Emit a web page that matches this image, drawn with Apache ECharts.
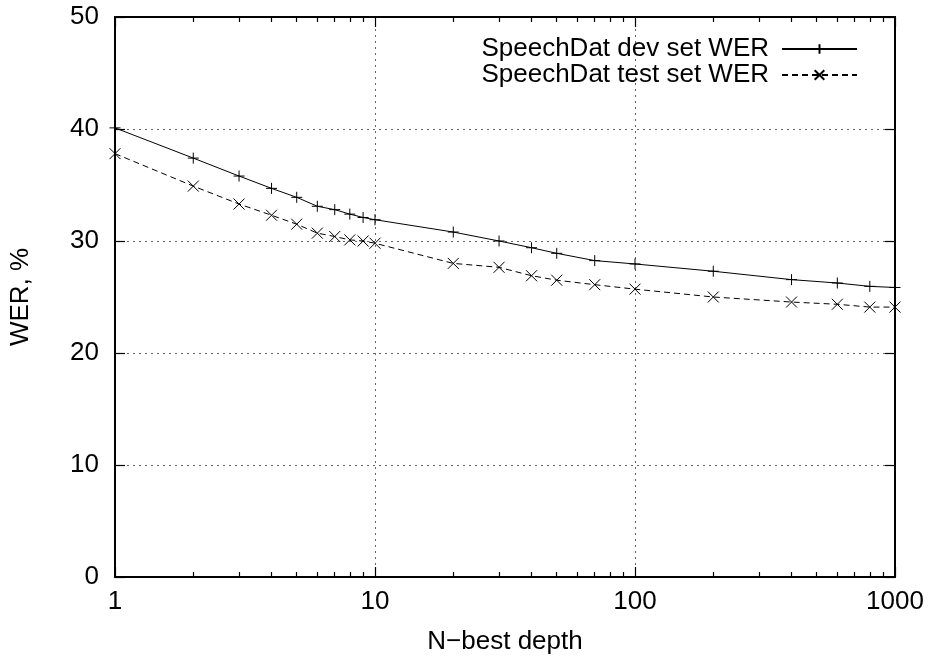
<!DOCTYPE html>
<html>
<head>
<meta charset="utf-8">
<script src="https://cdn.jsdelivr.net/npm/echarts@6/dist/echarts.min.js"></script>
<style>
  html, body { margin: 0; padding: 0; background: #fff; }
  #chart { width: 939px; height: 660px; }
</style>
</head>
<body>
<div id="chart"></div>
<script>
var nbest = [1, 2, 3, 4, 5, 6, 7, 8, 9, 10, 20, 30, 40, 50, 70, 100, 200, 400, 600, 800, 1000];
var devWer = [40.1, 37.4, 35.8, 34.7, 33.9, 33.1, 32.8, 32.4, 32.1, 31.9, 30.8, 30.0, 29.4, 28.9, 28.25, 27.95, 27.3, 26.55, 26.25, 25.95, 25.85];
var testWer = [37.8, 34.9, 33.3, 32.3, 31.5, 30.7, 30.4, 30.1, 30.0, 29.8, 28.0, 27.65, 26.9, 26.5, 26.1, 25.7, 25.0, 24.55, 24.35, 24.1, 24.1];
var minorTicks = [2, 3, 4, 5, 6, 7, 8, 9, 20, 30, 40, 50, 60, 70, 80, 90, 200, 300, 400, 500, 600, 700, 800, 900];
var majorTicks = [1, 10, 100, 1000];

var FONT = "'Liberation Sans', Arial, sans-serif";
var FONT_SIZE = 26;
var PLUS = 'path://M5,0V10M0,5H10';
var CROSS = 'path://M0,0L10,10M10,0L0,10';

var chart = echarts.init(document.getElementById('chart'), null, { renderer: 'canvas' });

function xAxisFor(position, ticks, len, showLabels, showSplit) {
	return {
		type: 'log',
		logBase: 10,
		min: 1,
		max: 1000,
		interval: 1,
		position: position,
		axisLine: { show: true, lineStyle: { color: '#000', width: 2 } },
		axisTick: { show: true, inside: true, length: len, customValues: ticks, lineStyle: { color: '#000', width: 1.2 } },
		axisLabel: {
			show: showLabels,
			customValues: majorTicks,
			formatter: function(v) { return String(Math.round(v)); },
			margin: 12,
			color: '#000',
			fontFamily: FONT,
			fontSize: FONT_SIZE
		},
		splitLine: { show: showSplit, lineStyle: { type: [2, 4], color: '#666', width: 1 } }
	};
}

var bottomMajor = xAxisFor('bottom', majorTicks, 10, true, true);
bottomMajor.name = 'N\u2212best depth';
bottomMajor.nameLocation = 'middle';
bottomMajor.nameGap = 52;
bottomMajor.nameTextStyle = { color: '#000', fontFamily: FONT, fontSize: FONT_SIZE };

function yAxisFor(position, showLabels, showSplit) {
	return {
		type: 'value',
		min: 0,
		max: 50,
		interval: 10,
		position: position,
		axisLine: { show: true, lineStyle: { color: '#000', width: 2 } },
		axisTick: { show: true, inside: true, length: 10, lineStyle: { color: '#000', width: 1.2 } },
		axisLabel: { show: showLabels, margin: 16, color: '#000', fontFamily: FONT, fontSize: FONT_SIZE },
		splitLine: { show: showSplit, lineStyle: { type: [2, 4], color: '#666', width: 1 } }
	};
}

var leftY = yAxisFor('left', true, true);
leftY.name = 'WER, %';
leftY.nameLocation = 'middle';
leftY.nameGap = 81;
leftY.nameTextStyle = { color: '#000', fontFamily: FONT, fontSize: FONT_SIZE };

var option = {
	animation: false,
	backgroundColor: '#fff',
	grid: { left: 113, right: 44, top: 17, bottom: 78 },
	legend: {
		right: 76,
		top: 31,
		orient: 'vertical',
		align: 'right',
		itemWidth: 75,
		itemHeight: 12,
		itemGap: 0,
		textStyle: { color: '#000', fontFamily: FONT, fontSize: FONT_SIZE, padding: [0, 8, 0, 0] },
		data: ['SpeechDat dev set WER', 'SpeechDat test set WER']
	},
	xAxis: [
		bottomMajor,
		xAxisFor('bottom', minorTicks, 5, false, false),
		xAxisFor('top', majorTicks, 10, false, false),
		xAxisFor('top', minorTicks, 5, false, false)
	],
	yAxis: [
		leftY,
		yAxisFor('right', false, false)
	],
	series: [
		{
			name: 'SpeechDat dev set WER',
			type: 'line',
			xAxisIndex: 0,
			yAxisIndex: 0,
			data: nbest.map(function(n, i) { return [n, devWer[i]]; }),
			symbol: PLUS,
			symbolSize: 11,
			color: '#000',
			itemStyle: { color: '#000', borderColor: '#000', borderWidth: 1 },
			lineStyle: { color: '#000', width: 1, type: 'solid' }
		},
		{
			name: 'SpeechDat test set WER',
			type: 'line',
			xAxisIndex: 0,
			yAxisIndex: 0,
			data: nbest.map(function(n, i) { return [n, testWer[i]]; }),
			symbol: CROSS,
			symbolSize: 11,
			color: '#000',
			itemStyle: { color: '#000', borderColor: '#000', borderWidth: 1 },
			lineStyle: { color: '#000', width: 1, type: [6, 4] }
		}
	]
};

chart.setOption(option);
</script>
</body>
</html>
